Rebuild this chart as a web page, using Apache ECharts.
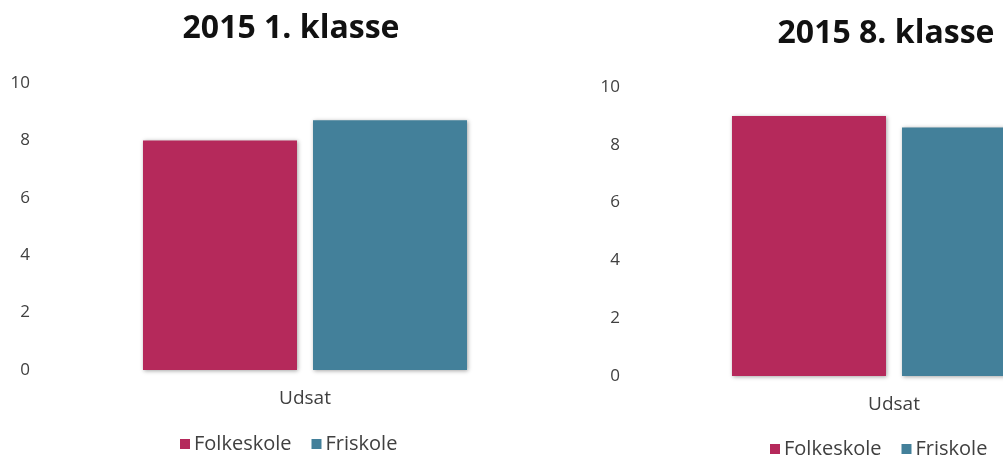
<!DOCTYPE html>
<html><head><meta charset="utf-8">
<script src="https://cdn.jsdelivr.net/npm/echarts@6/dist/echarts.min.js"></script>
<style>html,body{margin:0;padding:0;background:#fff;overflow:hidden;width:1003px;height:460px}#c{width:1200px;height:460px}</style>
</head><body><div id="c"></div>
<script>
const titles = ['2015 1. klasse', '2015 8. klasse'];
const categories = ['Udsat'];
const seriesNames = ['Folkeskole', 'Friskole'];
const folkeskole = [[8.0], [9.0]];
const friskole = [[8.7], [8.6]];
const yTicks = [0, 2, 4, 6, 8, 10];

const colors = ['#B5295B', '#43809A'];
const FONT = '"Open Sans", Lato, sans-serif';
const grids = [
  {left: 40, top: 83, width: 530, height: 287},
  {left: 630, top: 87, width: 528, height: 289}
];
const titlePos = [{left: 286, top: 8}, {left: 881, top: 13}];
const legendPos = [{left: 175, top: 429}, {left: 765, top: 434}];

const option = {
  animation: false,
  backgroundColor: '#fff',
  title: titles.map((t, i) => ({
    text: t, left: titlePos[i].left, top: titlePos[i].top, textAlign: 'center',
    textStyle: {fontFamily: FONT, fontWeight: 'bold', fontSize: 32, color: '#111'}
  })),
  legend: legendPos.map((p, i) => ({
    data: seriesNames.map(n => n + (i ? ' ' : '')),
    left: p.left, top: p.top, itemWidth: 10, itemHeight: 10, itemGap: 20, icon: 'rect',
    formatter: n => n.trim(),
    textStyle: {fontFamily: FONT, fontSize: 20, color: '#404040', padding: [0, 0, 0, -1]}
  })),
  grid: grids,
  xAxis: grids.map((g, i) => ({
    type: 'category', gridIndex: i, data: categories,
    axisLine: {show: false}, axisTick: {show: false},
    axisLabel: {fontFamily: FONT, fontSize: 19, color: '#404040', margin: 19}
  })),
  yAxis: grids.map((g, i) => ({
    type: 'value', gridIndex: i, min: yTicks[0], max: yTicks[yTicks.length - 1], interval: 2,
    axisLine: {show: false}, axisTick: {show: false}, splitLine: {show: false},
    axisLabel: {fontFamily: FONT, fontSize: 17, color: '#404040', margin: 10}
  })),
  series: []
};
[folkeskole, friskole].forEach((arr, s) => {
  arr.forEach((vals, i) => {
    option.series.push({
      type: 'bar', name: seriesNames[s] + (i ? ' ' : ''), xAxisIndex: i, yAxisIndex: i,
      data: vals, barWidth: 154, barGap: '10.4%',
      itemStyle: {color: colors[s], shadowBlur: 4, shadowColor: 'rgba(0,0,0,0.35)', shadowOffsetX: 1, shadowOffsetY: 1}
    });
  });
});
echarts.init(document.getElementById('c')).setOption(option);
</script>
</body></html>
